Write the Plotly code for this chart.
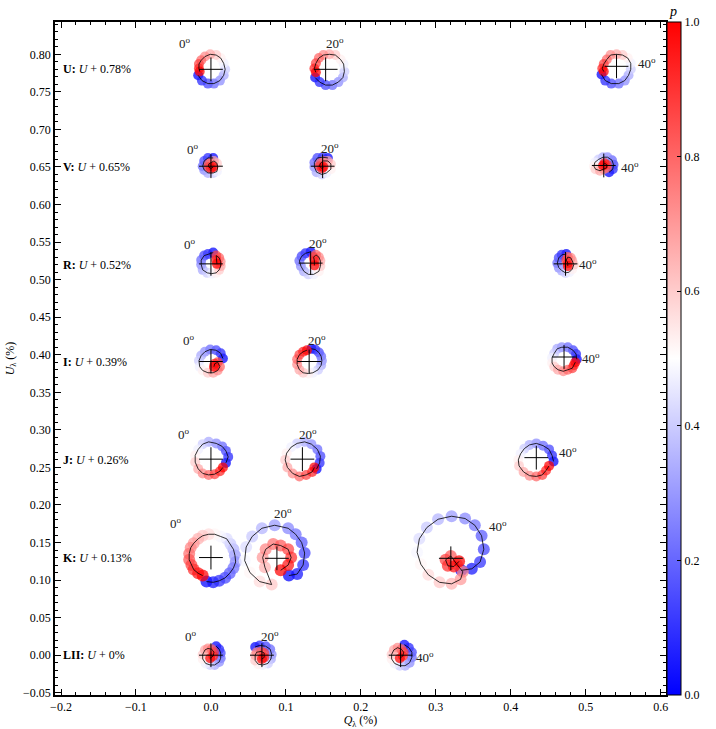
import plotly.graph_objects as go

# ---------------- data ----------------
BANDS = ["U", "V", "R", "I", "J", "K", "LII"]
U_OFFSET = [0.78, 0.65, 0.52, 0.39, 0.26, 0.13, 0.0]
OFFSET_TXT = ["0.78", "0.65", "0.52", "0.39", "0.26", "0.13", "0"]
ANGLES = [0, 20, 40]

# mean (Q, U) of each loop, per band (U without offset), in %
Q_MEAN_0 = [0.000, 0.000, 0.000, 0.000, 0.000, 0.000, 0.000]
Q_MEAN_20 = [0.153, 0.149, 0.133, 0.131, 0.122, 0.088, 0.068]
Q_MEAN_40 = [0.541, 0.524, 0.473, 0.471, 0.434, 0.320, 0.253]
U_MEAN_0 = [0.000, 0.001, 0.001, 0.001, 0.001, 0.000, 0.000]
U_MEAN_20 = [0.000, 0.001, 0.002, 0.001, 0.001, -0.001, 0.000]
U_MEAN_40 = [0.004, 0.002, 0.001, 0.007, 0.003, -0.001, 0.000]

# phases p of the loop samples
PHASE16 = [0.00, 0.07, 0.13, 0.20, 0.27, 0.33, 0.40, 0.47, 0.53, 0.60, 0.67, 0.73, 0.80, 0.87, 0.93, 1.00]
PHASE24 = [0.00, 0.04, 0.09, 0.13, 0.17, 0.22, 0.26, 0.30, 0.35, 0.39, 0.43, 0.48,
           0.52, 0.57, 0.61, 0.65, 0.70, 0.74, 0.78, 0.83, 0.87, 0.91, 0.96, 1.00]

# loop excursions from the mean, in units of 0.001 %
U0_DQ = [-17, -12, -4, 4, 12, 17, 19, 17, 13, 7, -1, -8, -13, -16, -16, -15]
U0_DU = [-8, -15, -19, -19, -15, -8, 0, 8, 15, 19, 20, 17, 12, 7, 1, -3]
U20_DQ = [-14, -8, 0, 9, 17, 23, 25, 24, 20, 13, 5, -3, -9, -13, -15, -13]
U20_DU = [-11, -17, -21, -21, -17, -11, -3, 7, 13, 19, 20, 19, 15, 8, 1, -4]
U40_DQ = [-20, -15, -7, 3, 11, 16, 19, 19, 15, 8, 0, -8, -13, -17, -19, -17]
U40_DU = [-11, -19, -23, -23, -19, -12, -4, 4, 11, 15, 16, 15, 9, 3, -3, -7]

V0_DQ = [3, -4, -9, -11, -9, -4, 3, 8, 9, 8, 4, 0, -3, -3, 0, 3]
V0_DU = [11, 11, 7, 0, -5, -9, -9, -7, -1, 4, 7, 5, 3, -1, -3, -1]
V20_DQ = [7, 0, -7, -11, -11, -8, -1, 5, 11, 11, 7, 1, -3, -4, -1, 1]
V20_DU = [11, 12, 11, 5, -1, -8, -11, -9, -4, 3, 7, 7, 4, 0, -3, -1]
V40_DQ = [7, 12, 13, 11, 5, -1, -7, -12, -13, -11, -5, 0, 4, 4, 1, -1]
V40_DU = [-9, -5, 1, 7, 11, 11, 8, 4, -1, -5, -7, -5, -3, 1, 3, 0]

R0_DQ = [3, -4, -9, -13, -13, -11, -5, 1, 7, 11, 13, 13, 11, 7, 7, 8]
R0_DU = [15, 13, 11, 5, -1, -8, -12, -13, -12, -8, -3, 3, 8, 11, 5, 0]
R20_DQ = [0, -7, -12, -15, -13, -9, -3, 4, 11, 13, 13, 11, 7, 4, 5, 5]
R20_DU = [15, 13, 9, 3, -4, -11, -15, -15, -11, -4, 3, 8, 11, 8, 3, -3]
R40_DQ = [1, -5, -9, -11, -9, -5, 0, 5, 9, 11, 9, 7, 3, 1, 3, 3]
R40_DU = [13, 12, 8, 1, -5, -9, -12, -11, -7, -1, 4, 8, 9, 5, 1, -3]

I0_DQ = [16, 13, 7, -1, -8, -13, -16, -15, -11, -4, 3, 9, 12, 9, 5, 4]
I0_DU = [4, 11, 15, 16, 13, 8, 1, -7, -12, -15, -15, -12, -7, -1, -3, -7]
I20_DQ = [3, 8, 13, 16, 17, 16, 12, 5, -1, -8, -13, -16, -16, -13, -8, -3]
I20_DU = [17, 16, 12, 7, 1, -5, -11, -15, -16, -15, -11, -4, 3, 9, 13, 15]
I40_DQ = [17, 16, 12, 5, -3, -9, -13, -16, -16, -13, -8, -1, 5, 11, 13, 15]
I40_DU = [-3, 4, 9, 13, 13, 11, 5, -1, -8, -13, -17, -19, -17, -15, -11, -7]

J0_DQ = [20, 23, 20, 15, 7, -3, -11, -17, -21, -21, -17, -11, -3, 5, 12, 16]
J0_DU = [-5, 3, 11, 17, 21, 23, 20, 13, 5, -4, -13, -19, -21, -20, -16, -11]
J20_DQ = [19, 23, 24, 20, 12, 3, -7, -15, -21, -23, -20, -13, -4, 5, 13, 16]
J20_DU = [-13, -5, 4, 13, 20, 23, 21, 16, 8, -1, -11, -19, -23, -21, -17, -11]
J40_DQ = [23, 21, 17, 9, 0, -9, -16, -21, -24, -23, -17, -9, 0, 8, 13, 17]
J40_DU = [-5, 3, 11, 16, 19, 17, 12, 5, -3, -11, -19, -24, -25, -23, -17, -11]

K0_DQ = [-6, 3, 11, 19, 25, 30, 33, 32, 30, 26, 21, 13, 5, -3, -11, -17, -23, -27, -29, -29, -26, -23, -17, -11]
K0_DU = [-32, -33, -31, -27, -21, -14, -6, 3, 11, 18, 25, 28, 31, 31, 29, 25, 19, 13, 5, -3, -10, -16, -21, -24]
K20_DQ = [16, 27, 35, 37, 33, 25, 15, -3, -20, -33, -41, -43, -36, -23, -7, -16, -19, -15, -5, 5, 15, 19, 15, 5]
K20_DU = [-23, -21, -9, 7, 21, 32, 40, 44, 40, 29, 15, -3, -19, -31, -35, -12, 1, 12, 19, 17, 12, 1, -9, -16]
K40_DQ = [14, 28, 39, 44, 41, 32, 19, 1, -17, -32, -42, -45, -40, -30, -15, 1, 13, 16, 8, 0, -7, -4, 4, 11]
K40_DU = [-16, -14, -5, 12, 30, 44, 53, 56, 52, 41, 26, 8, -8, -22, -32, -34, -28, -18, -8, 3, -2, -10, -11, -4]

LII0_DQ = [7, 11, 13, 13, 11, 5, -1, -7, -11, -11, -8, -4, 1, 4, 3, -1]
LII0_DU = [12, 8, 3, -4, -9, -13, -13, -11, -5, 1, 7, 9, 8, 4, -1, -4]
LII20_DQ = [-9, -3, 5, 11, 13, 12, 8, 1, -5, -9, -9, -7, -1, 3, 3, 0]
LII20_DU = [11, 13, 12, 8, 1, -5, -11, -13, -12, -7, 0, 4, 5, 3, -3, -5]
LII40_DQ = [5, 11, 15, 15, 12, 6, -1, -8, -12, -12, -9, -4, 1, 4, 3, -1]
LII40_DU = [14, 10, 4, -3, -10, -14, -14, -11, -5, 1, 7, 10, 8, 4, -1, -4]

# ---------------- layout constants ----------------
LOOPS = {
    "U": [(U0_DQ, U0_DU), (U20_DQ, U20_DU), (U40_DQ, U40_DU)],
    "V": [(V0_DQ, V0_DU), (V20_DQ, V20_DU), (V40_DQ, V40_DU)],
    "R": [(R0_DQ, R0_DU), (R20_DQ, R20_DU), (R40_DQ, R40_DU)],
    "I": [(I0_DQ, I0_DU), (I20_DQ, I20_DU), (I40_DQ, I40_DU)],
    "J": [(J0_DQ, J0_DU), (J20_DQ, J20_DU), (J40_DQ, J40_DU)],
    "K": [(K0_DQ, K0_DU), (K20_DQ, K20_DU), (K40_DQ, K40_DU)],
    "LII": [(LII0_DQ, LII0_DU), (LII20_DQ, LII20_DU), (LII40_DQ, LII40_DU)],
}
Q_MEAN = [Q_MEAN_0, Q_MEAN_20, Q_MEAN_40]
U_MEAN = [U_MEAN_0, U_MEAN_20, U_MEAN_40]

# angle-label offsets from the loop mean (data units)
LABEL_OFF = [
    [(-0.035, 0.035), (0.012, 0.035), (0.040, 0.004)],
    [(-0.024, 0.023), (0.010, 0.024), (0.035, -0.002)],
    [(-0.028, 0.027), (0.010, 0.027), (0.030, 0.000)],
    [(-0.029, 0.028), (0.011, 0.029), (0.036, -0.001)],
    [(-0.036, 0.034), (0.008, 0.034), (0.042, 0.007)],
    [(-0.047, 0.046), (0.008, 0.060), (0.063, 0.043)],
    [(-0.026, 0.025), (0.011, 0.025), (0.032, -0.003)],
]

FONT = "Liberation Serif"
BWR = [[0.0, "rgb(0,0,255)"], [0.5, "rgb(255,255,255)"], [1.0, "rgb(255,0,0)"]]

fig = go.Figure()
annotations = []
first = True
for bi, band in enumerate(BANDS):
    for ai, ang in enumerate(ANGLES):
        dq, du = LOOPS[band][ai]
        big = len(dq) == 24
        phase = PHASE24 if big else PHASE16
        qc = Q_MEAN[ai][bi]
        uc = U_MEAN[ai][bi] + U_OFFSET[bi]
        qs = [qc + v / 1000.0 for v in dq]
        us = [uc + v / 1000.0 for v in du]
        fig.add_trace(go.Scatter(
            x=qs, y=us, mode="markers", showlegend=False, hoverinfo="skip",
            marker=dict(color=phase, colorscale=BWR, cmin=0, cmax=1,
                        size=12 if big else 10,
                        opacity=0.72, line=dict(width=0),
                        showscale=first,
                        colorbar=dict(x=1.002, xanchor="left", xpad=0,
                                      y=0.5, yanchor="middle", ypad=0,
                                      len=1, lenmode="fraction",
                                      thickness=14, thicknessmode="pixels",
                                      outlinewidth=1, outlinecolor="black",
                                      tickmode="linear", tick0=0, dtick=0.2,
                                      tickformat=".1f", ticks="inside", ticklen=4,
                                      tickcolor="black",
                                      tickfont=dict(family=FONT, size=12, color="black"))),
        ))
        first = False
        fig.add_trace(go.Scatter(
            x=qs, y=us, mode="lines", showlegend=False, hoverinfo="skip",
            line=dict(color="black", width=0.8),
        ))
        fig.add_trace(go.Scatter(
            x=[qc], y=[uc], mode="markers", showlegend=False, hoverinfo="skip",
            marker=dict(symbol="cross-thin", size=17, color="black",
                        line=dict(width=1, color="black")),
        ))
        ox, oy = LABEL_OFF[bi][ai]
        annotations.append(dict(
            x=qc + ox, y=uc + oy, xref="x", yref="y", showarrow=False,
            text=f"{ang}<sup>o</sup>", font=dict(family=FONT, size=13, color="#222"),
        ))
    annotations.append(dict(
        x=-0.200, y=U_OFFSET[bi], xref="x", yref="y", showarrow=False,
        xanchor="left", yanchor="middle",
        text=f"<b>{band}:</b> <i>U</i> + {OFFSET_TXT[bi]}%",
        font=dict(family=FONT, size=12, color="black"),
    ))

annotations.append(dict(
    x=1.012, y=1.0, xref="paper", yref="paper", xanchor="center", yanchor="bottom",
    yshift=1, showarrow=False, text="<i>p</i>",
    font=dict(family=FONT, size=14, color="black"),
))

axis_common = dict(
    showgrid=False, zeroline=False, showline=True, linecolor="black", linewidth=1.5,
    mirror="allticks", ticks="inside", ticklen=6, tickwidth=1, tickcolor="black",
    tickfont=dict(family=FONT, size=12, color="black"),
)

fig.update_layout(
    width=716, height=729,
    margin=dict(l=55, r=50, t=22, b=34, autoexpand=False),
    paper_bgcolor="white", plot_bgcolor="white",
    font=dict(family=FONT, size=12, color="black"),
    annotations=annotations,
    xaxis=dict(range=[-0.208, 0.607], tickmode="linear", tick0=0, dtick=0.1,
               tickformat=".1f",
               minor=dict(dtick=0.02, ticks="inside", ticklen=3, tickwidth=0.8,
                          tickcolor="black"),
               title=dict(text="<i>Q</i><sub>λ</sub> (%)", standoff=2,
                          font=dict(family=FONT, size=12)),
               **axis_common),
    yaxis=dict(range=[-0.053, 0.843], tickmode="linear", tick0=0, dtick=0.05,
               tickformat=".2f",
               minor=dict(dtick=0.01, ticks="inside", ticklen=3, tickwidth=0.8,
                          tickcolor="black"),
               title=dict(text="<i>U</i><sub>λ</sub> (%)", standoff=6,
                          font=dict(family=FONT, size=12)),
               **axis_common),
)

fig.write_html("out.html",
               config={"displayModeBar": False},
               post_script="document.body.style.margin='0px';"
                           "document.body.style.overflow='hidden';")
